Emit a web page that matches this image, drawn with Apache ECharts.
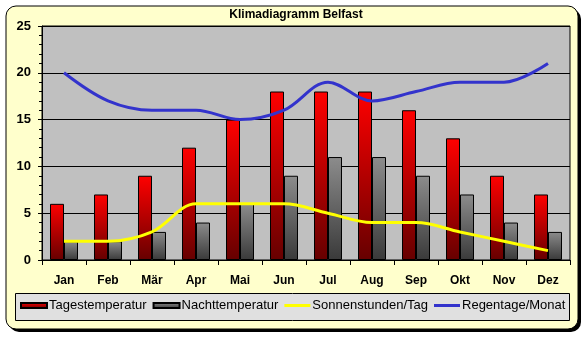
<!DOCTYPE html>
<html><head><meta charset="utf-8">
<script src="https://cdn.jsdelivr.net/npm/echarts@6/dist/echarts.min.js"></script>
<style>html,body{margin:0;padding:0;background:#fff}#c{width:588px;height:337px}</style>
</head><body><div id="c"></div>
<script>
const months = ['Jan','Feb','Mär','Apr','Mai','Jun','Jul','Aug','Sep','Okt','Nov','Dez'];
const tages = [6,7,9,12,15,18,18,18,16,13,9,7];
const nacht = [2,2,3,4,6,9,11,11,9,7,4,3];
const sonne = [2,2,3,6,6,6,5,4,4,3,2,1];
const regen = [20,17,16,16,15,16,19,17,18,19,19,21];
const yTicks = [0,5,10,15,20,25];

const FONT = 'Arial, "Liberation Sans", sans-serif';
const chart = echarts.init(document.getElementById('c'), null, {renderer:'canvas'});
const redGrad = new echarts.graphic.LinearGradient(0,0,0,1,[{offset:0,color:'#ff0000'},{offset:1,color:'#660000'}]);
const greyGrad = new echarts.graphic.LinearGradient(0,0,0,1,[{offset:0,color:'#8c8c8c'},{offset:1,color:'#3a3a3a'}]);
const lineIcon = 'path://M0,0h26v3h-26z';
chart.setOption({
  animation:false,
  backgroundColor:'#ffffff',
  textStyle:{fontFamily:FONT},
  title:{text:'Klimadiagramm Belfast', left:296, top:9, textAlign:'center', padding:0,
    textStyle:{fontFamily:FONT, fontSize:12, fontWeight:'bold', color:'#000'}},
  graphic:[
    {type:'rect', z:-10, shape:{x:9,y:9,width:572,height:323,r:10}, style:{fill:'#000'}},
    {type:'rect', z:-9, shape:{x:6,y:6,width:572,height:323,r:10}, style:{fill:'#ffffcc',stroke:'#000',lineWidth:1}},
    {type:'rect', z:-8, shape:{x:15.5,y:293.5,width:554,height:27}, style:{fill:'#e0e0e0',stroke:'#000',lineWidth:1}}
  ],
  legend:{left:20, top:299, itemGap:6, itemWidth:26, itemHeight:5, padding:0,
    textStyle:{fontFamily:FONT, fontSize:13, color:'#000', padding:[0,0,0,-3]},
    data:[{name:'Tagestemperatur',icon:'rect'},{name:'Nachttemperatur',icon:'rect'},
          {name:'Sonnenstunden/Tag',icon:lineIcon,itemStyle:{color:'#ffff00',borderWidth:0}},
          {name:'Regentage/Monat',icon:lineIcon,itemStyle:{color:'#3333cc',borderWidth:0}}]},
  grid:{left:42, right:18, top:26, bottom:77, show:true, backgroundColor:'#c0c0c0', borderColor:'#000', borderWidth:1},
  xAxis:{type:'category', data:months, boundaryGap:true,
    axisLine:{lineStyle:{color:'#000',width:1}},
    axisTick:{show:true, alignWithLabel:false, length:5, lineStyle:{color:'#000'}},
    axisLabel:{fontFamily:FONT, fontSize:12, fontWeight:'bold', color:'#000', margin:15}},
  yAxis:{type:'value', min:yTicks[0], max:yTicks[yTicks.length-1], interval:5,
    axisLine:{show:true, lineStyle:{color:'#000',width:1}},
    axisTick:{show:true, length:4, lineStyle:{color:'#000'}},
    minorTick:{show:true, splitNumber:5, length:3, lineStyle:{color:'#000'}},
    splitLine:{show:true, lineStyle:{color:'#000',width:1}},
    axisLabel:{fontFamily:FONT, fontSize:13, fontWeight:'bold', color:'#000', margin:11}},
  series:[
    {name:'Tagestemperatur', type:'bar', data:tages, barWidth:14, barGap:'0%',
      itemStyle:{color:redGrad, borderColor:'#000', borderWidth:1}},
    {name:'Nachttemperatur', type:'bar', data:nacht, barWidth:14, barGap:'0%',
      itemStyle:{color:greyGrad, borderColor:'#000', borderWidth:1}},
    {name:'Sonnenstunden/Tag', type:'line', data:sonne, smooth:0.35, symbol:'none',
      lineStyle:{color:'#ffff00', width:3}, itemStyle:{color:'#ffff00'}},
    {name:'Regentage/Monat', type:'line', data:regen, smooth:0.35, symbol:'none',
      lineStyle:{color:'#3333cc', width:3}, itemStyle:{color:'#3333cc'}}
  ]
});
</script></body></html>
